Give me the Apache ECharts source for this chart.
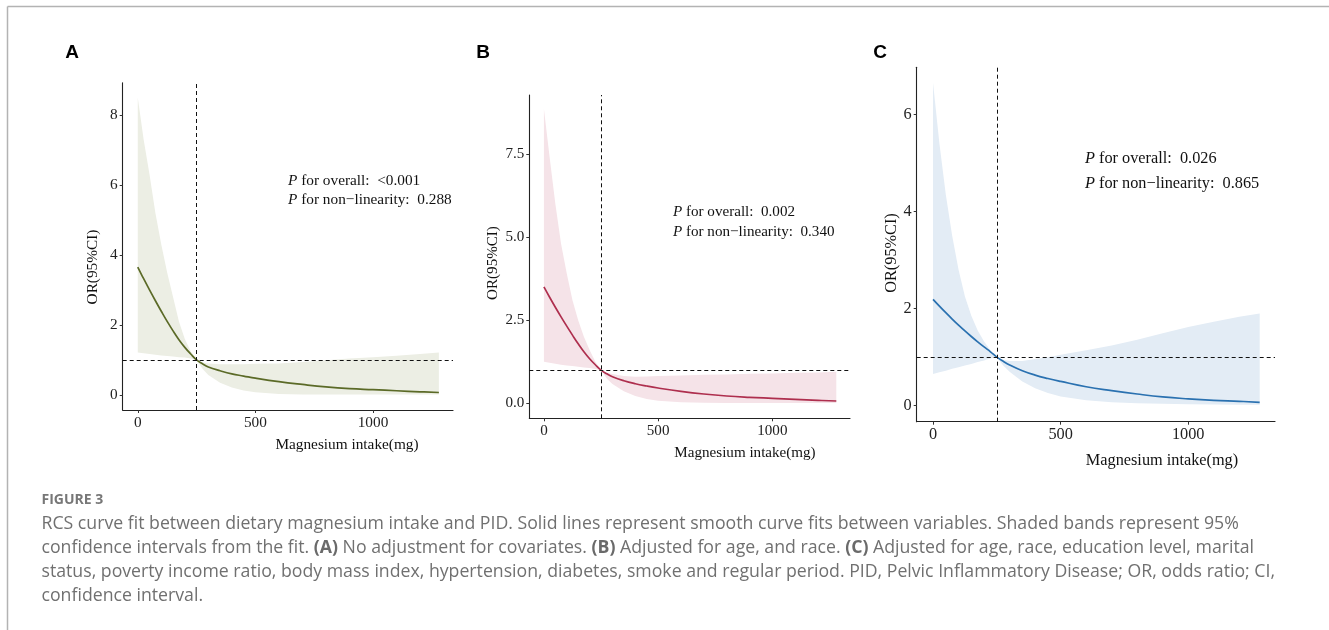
<!DOCTYPE html>
<html>
<head>
<meta charset="utf-8">
<script src="https://cdn.jsdelivr.net/npm/echarts@6/dist/echarts.min.js"></script>
<style>
  html, body { margin: 0; padding: 0; background: #fff; }
  #main { width: 1329px; height: 630px; }
</style>
</head>
<body>
<div id="main"></div>
<script>
// magnesium intake (mg), shared by all three panels
const intake = [0, 25, 50, 75, 100, 125, 150, 175, 200, 225, 250, 275, 300, 350, 400, 450, 500, 600, 700, 800, 900, 1000, 1100, 1200, 1280];

// panel A: no adjustment
const orA = [3.65, 3.32, 3.0, 2.69, 2.39, 2.1, 1.83, 1.58, 1.36, 1.17, 1.0, 0.89, 0.8, 0.69, 0.6, 0.54, 0.48, 0.38, 0.3, 0.23, 0.18, 0.15, 0.12, 0.09, 0.07];
const upA = [8.5, 7.3, 6.3, 5.2, 4.3, 3.5, 2.8, 2.1, 1.6, 1.25, 1.0, 0.93, 0.9, 0.88, 0.88, 0.88, 0.89, 0.9, 0.94, 0.99, 1.04, 1.08, 1.12, 1.17, 1.21];
const loA = [1.21, 1.19, 1.17, 1.15, 1.13, 1.11, 1.1, 1.08, 1.07, 1.04, 1.0, 0.75, 0.57, 0.35, 0.21, 0.13, 0.08, 0.03, 0.015, 0.01, 0.01, 0.01, 0.01, 0.01, 0.01];

// panel B: age, race
const orB = [3.5, 3.19, 2.89, 2.6, 2.32, 2.05, 1.79, 1.55, 1.34, 1.16, 1.0, 0.89, 0.8, 0.68, 0.59, 0.52, 0.46, 0.36, 0.28, 0.22, 0.18, 0.15, 0.12, 0.09, 0.07];
const upB = [8.85, 7.4, 6.0, 4.8, 3.9, 3.1, 2.5, 2.0, 1.6, 1.25, 1.0, 0.92, 0.88, 0.82, 0.8, 0.81, 0.82, 0.84, 0.86, 0.87, 0.89, 0.9, 0.92, 0.93, 0.95];
const loB = [1.25, 1.22, 1.19, 1.16, 1.14, 1.12, 1.1, 1.08, 1.06, 1.03, 1.0, 0.75, 0.58, 0.36, 0.22, 0.13, 0.08, 0.03, 0.015, 0.01, 0.01, 0.01, 0.01, 0.01, 0.01];

// panel C: fully adjusted
const orC = [2.19, 2.05, 1.915, 1.785, 1.66, 1.54, 1.425, 1.315, 1.21, 1.11, 1.0, 0.915, 0.84, 0.72, 0.63, 0.56, 0.5, 0.39, 0.31, 0.24, 0.18, 0.14, 0.11, 0.09, 0.07];
const upC = [6.65, 5.4, 4.35, 3.5, 2.8, 2.25, 1.85, 1.55, 1.32, 1.14, 1.0, 0.94, 0.92, 0.92, 0.96, 1.0, 1.05, 1.14, 1.24, 1.36, 1.49, 1.62, 1.73, 1.83, 1.9];
const loC = [0.65, 0.69, 0.72, 0.76, 0.79, 0.83, 0.86, 0.9, 0.93, 0.97, 1.0, 0.83, 0.7, 0.5, 0.36, 0.26, 0.19, 0.11, 0.07, 0.05, 0.04, 0.03, 0.025, 0.02, 0.02];

const xTicks = [0, 500, 1000];
const yTicksA = [0, 2, 4, 6, 8];
const yTicksB = [0, 2.5, 5, 7.5];
const yTicksC = [0, 2, 4, 6];

const cutoff = 250;   // vertical reference
const refOR = 1;      // horizontal reference

const pOverall = ['<0.001', '0.002', '0.026'];
const pNonLin = ['0.288', '0.340', '0.865'];

const serif = '"Liberation Serif", "Times New Roman", serif';

const panels = [
  { key: 'A', or: orA, up: upA, lo: loA, ticks: yTicksA, fmt: v => String(v),
    grid: { left: 122.7, top: 82.7, width: 330.3, height: 327.3 }, ymin: -0.43, ymax: 8.92,
    line: '#5B6A27', band: '#ECEEE4', fs: 15.3,
    letter: [72, 53], ytitle: [93, 267], xtitle: [347, 445], note: [288, 181, 200] },
  { key: 'B', or: orB, up: upB, lo: loB, ticks: yTicksB, fmt: v => v.toFixed(1),
    grid: { left: 529.3, top: 95, width: 320.7, height: 323.3 }, ymin: -0.45, ymax: 9.27,
    line: '#AE2F4E', band: '#F5E3E8', fs: 15.1,
    letter: [483, 53], ytitle: [493, 263], xtitle: [745, 453], note: [673, 212, 232.5] },
  { key: 'C', or: orC, up: upC, lo: loC, ticks: yTicksC, fmt: v => String(v),
    grid: { left: 916.7, top: 67.3, width: 358.3, height: 354.4 }, ymin: -0.33, ymax: 6.97,
    line: '#2A71B0', band: '#E3ECF5', fs: 16.3,
    letter: [880, 53], ytitle: [892, 253], xtitle: [1162, 461], note: [1085, 158.5, 183.5] }
];

const grids = [], xAxes = [], yAxes = [], series = [], graphics = [];

panels.forEach((p, i) => {
  grids.push(Object.assign({ containLabel: false }, p.grid));
  xAxes.push({
    type: 'value', gridIndex: i, min: -64, max: 1340,
    splitLine: { show: false },
    axisLine: { show: true, onZero: false, lineStyle: { color: '#222', width: 1.1 } },
    axisTick: { show: true, length: 3, customValues: xTicks, lineStyle: { color: '#333' } },
    axisLabel: { customValues: xTicks, margin: 5, color: '#222', fontFamily: serif, fontSize: p.fs,
      formatter: v => String(v) }
  });
  yAxes.push({
    type: 'value', gridIndex: i, min: p.ymin, max: p.ymax,
    splitLine: { show: false },
    axisLine: { show: true, onZero: false, lineStyle: { color: '#222', width: 1.1 } },
    axisTick: { show: true, length: 3, customValues: p.ticks, lineStyle: { color: '#333' } },
    axisLabel: { customValues: p.ticks, margin: 5, color: '#222', fontFamily: serif, fontSize: p.fs,
      formatter: p.fmt }
  });

  // 95% CI band as one polygon through the axis scales
  series.push({
    type: 'custom', xAxisIndex: i, yAxisIndex: i, z: 1,
    data: [[intake[0], p.lo[0]]],
    renderItem: (params, api) => {
      const top = intake.map((x, k) => api.coord([x, p.up[k]]));
      const bottom = intake.map((x, k) => api.coord([x, p.lo[k]])).reverse();
      return { type: 'polygon', shape: { points: top.concat(bottom) }, style: { fill: p.band } };
    },
    silent: true
  });

  series.push({
    type: 'line', xAxisIndex: i, yAxisIndex: i, z: 3,
    data: intake.map((x, k) => [x, p.or[k]]),
    smooth: 0.45, showSymbol: false,
    lineStyle: { color: p.line, width: 1.7 },
    markLine: {
      silent: true, symbol: 'none', label: { show: false },
      lineStyle: { color: '#111', width: 1, type: [4, 3] },
      data: [{ xAxis: cutoff }, { yAxis: refOR }]
    }
  });

  graphics.push({
    type: 'text', x: p.letter[0], y: p.letter[1],
    style: { text: p.key, fill: '#000', font: 'bold 19px "Liberation Sans", Arial, sans-serif', align: 'center', verticalAlign: 'middle' }
  });
  graphics.push({
    type: 'text', x: p.ytitle[0], y: p.ytitle[1], rotation: Math.PI / 2,
    style: { text: 'OR(95%CI)', fill: '#111', font: p.fs + 'px ' + serif, align: 'center', verticalAlign: 'middle' }
  });
  graphics.push({
    type: 'text', x: p.xtitle[0], y: p.xtitle[1],
    style: { text: 'Magnesium intake(mg)', fill: '#111', font: p.fs + 'px ' + serif, align: 'center', verticalAlign: 'middle' }
  });
  const rich = {
    i: { fontFamily: serif, fontSize: p.fs, fontStyle: 'italic', fill: '#111' },
    n: { fontFamily: serif, fontSize: p.fs, fill: '#111' }
  };
  graphics.push({
    type: 'text', x: p.note[0], y: p.note[1],
    style: { text: '{i|P}{n| for overall:  ' + pOverall[i] + '}', rich: rich, verticalAlign: 'middle' }
  });
  graphics.push({
    type: 'text', x: p.note[0], y: p.note[2],
    style: { text: '{i|P}{n| for non\u2212linearity:  ' + pNonLin[i] + '}', rich: rich, verticalAlign: 'middle' }
  });
});

// frame and caption
const capFont = '"Open Sans", "Noto Sans", sans-serif';
const capRich = {
  n: { fontFamily: capFont, fontSize: 17.7, fill: '#707070' },
  b: { fontFamily: capFont, fontSize: 17.7, fontWeight: 'bold', fill: '#6a6a6a' }
};
const captionLines = [
  '{n|RCS curve fit between dietary magnesium intake and PID. Solid lines represent smooth curve fits between variables. Shaded bands represent 95%}',
  '{n|confidence intervals from the fit. }{b|(A)}{n| No adjustment for covariates. }{b|(B)}{n| Adjusted for age, and race. }{b|(C)}{n| Adjusted for age, race, education level, marital}',
  '{n|status, poverty income ratio, body mass index, hypertension, diabetes, smoke and regular period. PID, Pelvic Inflammatory Disease; OR, odds ratio; CI,}',
  '{n|confidence interval.}'
];
const captionY = [524, 548, 572, 595.5];

graphics.push(
  { type: 'line', shape: { x1: 7.5, y1: 6.5, x2: 1329, y2: 6.5 }, style: { stroke: '#b3b3b3', lineWidth: 1.5 } },
  { type: 'line', shape: { x1: 7.5, y1: 6.5, x2: 7.5, y2: 630 }, style: { stroke: '#b3b3b3', lineWidth: 1.5 } },
  { type: 'text', x: 41.5, y: 500, style: { text: 'FIGURE 3', fill: '#777', font: 'bold 14px ' + capFont, verticalAlign: 'middle' } }
);
captionLines.forEach((t, k) => {
  graphics.push({ type: 'text', x: 41.5, y: captionY[k], style: { text: t, rich: capRich, verticalAlign: 'middle' } });
});

const chart = echarts.init(document.getElementById('main'), null, { renderer: 'canvas' });
chart.setOption({
  backgroundColor: '#fff',
  animation: false,
  grid: grids,
  xAxis: xAxes,
  yAxis: yAxes,
  series: series,
  graphic: graphics
});
</script>
</body>
</html>
